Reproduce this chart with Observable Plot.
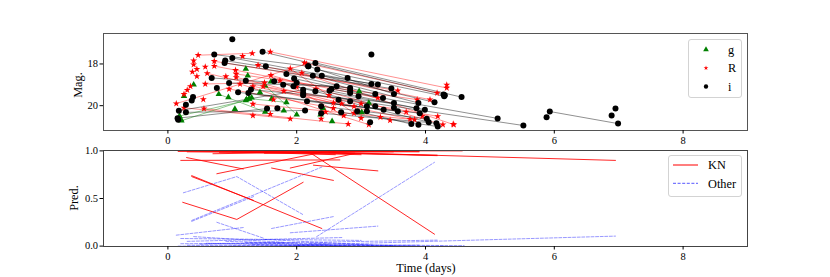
<!DOCTYPE html>
<html><head><meta charset="utf-8">
<script src="https://cdn.jsdelivr.net/npm/d3@7"></script>
<script src="https://cdn.jsdelivr.net/npm/@observablehq/plot@0.6"></script>
<style>
body{margin:0;background:#fff;}
#fig{position:relative;width:830px;height:277px;font-family:"Liberation Serif",serif;color:#000;overflow:hidden;}
#fig > svg{position:absolute;left:0;overflow:visible;}
#fig svg text{font-family:"Liberation Serif",serif !important;}
#fig svg [aria-label$="tick label"]{font-size:10.5px !important;}
.lab{position:absolute;font-size:12.3px;white-space:nowrap;transform:translate(-50%,-50%);}
.rot{transform:translate(-50%,-50%) rotate(-90deg);}
</style></head><body><div id="fig"></div>
<script>
// ---------- data ----------
const xTicks = [0, 2, 4, 6, 8];
const magTicks = [18, 20];
const predTicks = [0, 0.5, 1];
const bands = ["g", "R", "i"];
const classes = ["KN", "Other"];

// light curves: polylines [[time, mag], ...] per object and band
const gLines = [
  [[0.21,20.72],[1.26,19.68]],
  [[0.18,20.50],[1.21,19.75]],
  [[1.26,19.66],[1.84,19.84]],
  [[0.79,19.45],[1.51,20.30]],
  [[1.51,19.04],[2.00,20.43]]
];
const gPts = [[1.21,18.24],[1.24,18.56],[0.40,18.99],[0.25,19.54],[0.94,19.60],[1.04,20.16],[1.43,19.36],
  [1.61,19.68],[1.80,20.24],[2.37,20.43],[2.55,20.75],[2.97,19.31],[3.01,20.32],[2.41,20.12],[3.12,19.87],
  [1.30,19.62],[1.22,19.70],[0.20,20.65],[1.60,18.85]];

const rLines = [
  [[0.13,19.90],[2.15,18.00]],
  [[0.25,20.10],[1.90,20.63]],
  [[0.56,20.14],[2.80,20.88]],
  [[0.47,17.58],[1.31,17.49]],
  [[1.59,17.42],[4.33,19.15]],
  [[0.72,17.87],[3.57,19.28]],
  [[0.72,18.10],[3.26,19.63]],
  [[1.06,18.48],[3.87,19.71]],
  [[1.40,18.06],[4.07,19.71]],
  [[1.06,18.64],[2.89,20.03]],
  [[0.61,18.45],[2.57,19.87]],
  [[1.12,18.96],[3.12,20.91]],
  [[1.32,19.07],[3.76,20.64]],
  [[1.32,19.92],[3.83,20.67]],
  [[1.48,19.07],[4.19,20.51]],
  [[1.60,18.54],[4.27,20.91]],
  [[1.74,18.80],[2.73,20.47]],
  [[2.12,17.95],[4.18,19.39]],
  [[1.90,18.22],[2.89,20.36]],
  [[0.95,19.20],[2.57,20.12]],
  [[2.08,18.43],[4.44,20.91]],
  [[0.58,18.96],[1.50,18.90]]
];
const rPts = [[0.40,17.84],[0.40,18.03],[0.58,18.14],[0.38,18.38],[0.45,18.59],[0.35,19.07],[0.45,18.25],
  [1.16,17.63],[0.30,19.25],[0.25,19.45],[1.64,19.71],[1.59,20.40],[1.32,20.47],[2.38,20.63],[4.43,20.88],
  [2.30,19.20],[2.50,19.50],[2.00,19.10],[1.80,19.30],[3.00,19.90],[2.70,19.90],[3.00,20.60],[2.45,20.30],
  [3.30,20.55],[3.45,20.70],[3.70,20.30],[0.55,19.70],[1.05,18.30],[0.90,18.60],[4.33,19.00],[3.95,20.50]];

const iLines = [
  [[1.47,17.42],[4.28,19.47]],
  [[2.29,17.95],[4.56,19.59]],
  [[0.72,17.55],[2.18,18.11]],
  [[1.00,17.71],[3.16,18.96]],
  [[0.89,17.84],[3.26,18.99]],
  [[0.88,17.95],[3.47,19.18]],
  [[2.18,18.11],[3.51,19.44]],
  [[2.32,18.27],[4.29,19.55]],
  [[1.84,18.48],[3.22,19.44]],
  [[1.96,18.70],[3.34,19.63]],
  [[2.25,18.56],[3.89,19.87]],
  [[2.39,18.56],[4.14,19.84]],
  [[2.54,19.20],[5.12,20.61]],
  [[2.10,19.39],[5.52,20.95]],
  [[0.17,20.24],[2.10,19.24]],
  [[0.28,20.32],[2.13,20.23]],
  [[0.15,20.60],[1.54,20.14]],
  [[1.09,19.36],[3.35,20.20]],
  [[1.25,19.39],[3.57,20.27]],
  [[1.29,19.23],[3.51,19.87]],
  [[2.16,19.79],[3.91,20.36]],
  [[2.38,20.03],[4.02,20.63]],
  [[2.38,20.36],[4.17,20.84]],
  [[2.65,19.71],[4.05,20.79]],
  [[2.69,20.32],[4.19,21.00]],
  [[2.94,20.27],[3.78,20.88]],
  [[5.93,20.28],[6.99,20.86]],
  [[1.65,18.83],[3.22,20.03]],
  [[0.68,18.67],[2.83,19.15]],
  [[0.95,18.91],[2.62,19.07]],
  [[1.95,19.07],[3.99,20.19]],
  [[2.51,19.28],[3.86,20.12]]
];
const iPts = [[1.00,16.81],[3.16,17.55],[0.39,19.59],[0.37,19.75],[0.16,20.67],[0.76,19.15],[1.21,18.80],
  [1.52,18.11],[2.83,19.28],[2.83,19.39],[2.96,19.55],[3.09,20.27],[3.09,20.03],[2.83,19.79],[3.14,20.80],
  [3.89,20.91],[5.88,20.56],[6.89,20.47],[6.95,20.13],[2.10,19.50],[2.29,19.31],[1.70,20.12],[1.79,19.00],
  [2.00,18.90],[0.28,19.95],[3.51,20.10],[2.79,18.67],[4.30,19.50]];

// classifier predictions: polylines [[time, prob], ...]
const knLines = [
  [[0.16,1.00],[4.57,1.00]],
  [[0.16,0.995],[3.90,0.99]],
  [[0.30,0.99],[2.90,0.975]],
  [[0.50,1.00],[3.00,0.96]],
  [[0.80,0.985],[3.50,0.99]],
  [[1.00,0.99],[2.60,0.96]],
  [[1.20,1.00],[4.18,0.95]],
  [[0.70,0.97],[2.20,0.985]],
  [[1.50,0.975],[3.20,0.995]],
  [[2.00,0.99],[3.90,0.995]],
  [[1.50,0.99],[4.18,0.955]],
  [[0.20,0.90],[2.67,0.905]],
  [[0.29,0.93],[1.17,0.81]],
  [[0.76,0.76],[2.39,0.985]],
  [[1.61,0.82],[2.57,0.69]],
  [[1.90,0.82],[2.88,0.97]],
  [[2.21,0.98],[4.14,0.125]],
  [[2.26,0.85],[3.26,0.79]],
  [[2.50,0.985],[6.95,0.90]],
  [[0.37,0.74],[2.39,0.185]],
  [[0.37,0.73],[1.33,0.48]],
  [[0.23,0.46],[1.07,0.28],[2.10,0.67]]
];
const otherLines = [
  [[0.24,0.56],[1.07,0.73],[2.10,0.33]],
  [[0.37,0.27],[2.39,0.83]],
  [[0.37,0.26],[1.33,0.52]],
  [[0.76,0.25],[1.50,0.08]],
  [[1.61,0.185],[2.57,0.31]],
  [[2.31,0.10],[4.14,0.88]],
  [[0.13,0.115],[1.17,0.195]],
  [[1.90,0.14],[3.26,0.21]],
  [[2.00,0.01],[6.95,0.105]],
  [[0.20,0.08],[3.00,0.06]],
  [[0.30,0.05],[2.70,0.09]],
  [[0.50,0.02],[4.18,0.063]],
  [[0.16,0.00],[4.30,0.00]],
  [[0.30,0.01],[3.50,0.005]],
  [[0.60,0.03],[2.40,0.00]],
  [[1.00,0.00],[3.90,0.01]],
  [[0.90,0.05],[2.50,0.02]],
  [[1.20,0.04],[2.80,0.00]],
  [[1.50,0.07],[3.20,0.01]],
  [[0.40,0.10],[1.80,0.04]],
  [[1.30,0.02],[4.60,0.005]],
  [[2.20,0.03],[3.80,0.00]],
  [[0.20,0.025],[2.00,0.035]]
];

// ---------- build tables ----------
const toRows = (lines, key) => lines.flatMap((pts, i) => pts.map(([t, v]) => ({id: key + i, t, v})));
const ptRows = (pts) => pts.map(([t, v]) => ({t, v}));
const gRows = toRows(gLines, "g"), rRows = toRows(rLines, "R"), iRows = toRows(iLines, "i");
const knRows = toRows(knLines, "k"), otRows = toRows(otherLines, "o");
const colors = {g: "green", R: "red", i: "black"};

const font = {fontFamily: "Liberation Serif, serif", fontSize: "10.5px", color: "#000", background: "transparent", overflow: "visible"};

const topPlot = Plot.plot({
  width: 830, height: 140, marginTop: 33, marginBottom: 10, marginLeft: 103, marginRight: 83,
  style: font,
  x: {domain: [-1, 9]},
  y: {domain: [16.54, 21.19], reverse: true},
  marks: [
    Plot.line(rRows, {x: "t", y: "v", z: "id", stroke: colors.R, strokeOpacity: 0.55, strokeWidth: 0.8}),
    Plot.line(iRows, {x: "t", y: "v", z: "id", stroke: colors.i, strokeOpacity: 0.55, strokeWidth: 0.8}),
    Plot.line(gRows, {x: "t", y: "v", z: "id", stroke: colors.g, strokeOpacity: 0.55, strokeWidth: 0.8}),
    Plot.dot(gRows.concat(ptRows(gPts)), {x: "t", y: "v", symbol: "triangle", r: 2.4, fill: colors.g, stroke: "none"}),
    Plot.dot(rRows.concat(ptRows(rPts)), {x: "t", y: "v", symbol: "star", r: 2.2, fill: colors.R, stroke: "none"}),
    Plot.dot(iRows.concat(ptRows(iPts)), {x: "t", y: "v", symbol: "circle", r: 3, fill: colors.i, stroke: "none"}),
    Plot.frame({stroke: "#555", strokeWidth: 1}),
    Plot.axisX({ticks: xTicks, tickSize: 3.5, tickPadding: 2.2, tickFormat: d3.format("d"), label: null}),
    Plot.axisY({ticks: magTicks, tickSize: 3.5, tickPadding: 2, tickFormat: d3.format("d"), label: null})
  ]
});

const botPlot = Plot.plot({
  width: 830, height: 137, marginTop: 10, marginBottom: 31, marginLeft: 103, marginRight: 83,
  style: font,
  x: {domain: [-1, 9]},
  y: {domain: [-0.004, 1.004]},
  marks: [
    Plot.line(otRows, {x: "t", y: "v", z: "id", stroke: "blue", strokeOpacity: 0.45, strokeWidth: 0.9, strokeDasharray: "3,1.6"}),
    Plot.line(knRows, {x: "t", y: "v", z: "id", stroke: "red", strokeOpacity: 0.85, strokeWidth: 1}),
    Plot.frame({stroke: "#444", strokeWidth: 1}),
    Plot.axisX({ticks: xTicks, tickSize: 3.5, tickPadding: 2.5, tickFormat: d3.format("d"), label: null}),
    Plot.axisY({ticks: predTicks, tickSize: 3.5, tickPadding: 2, tickFormat: d3.format(".1f"), label: null})
  ]
});

const fig = document.getElementById("fig");
topPlot.style.top = "0px";
botPlot.style.top = "140px";
fig.appendChild(topPlot);
fig.appendChild(botPlot);

// axis titles
function label(text, x, y, rot) {
  const d = document.createElement("div");
  d.className = "lab" + (rot ? " rot" : "");
  d.textContent = text;
  d.style.left = x + "px"; d.style.top = y + "px";
  fig.appendChild(d);
}
label("Mag.", 78, 85, true);
label("Pred.", 74, 198, true);
label("Time (days)", 426, 268, false);

// legends
function legendBox(x, y, w, h) {
  const svg = d3.select(fig).append("svg")
    .attr("width", w + 1).attr("height", h + 1)
    .style("left", x + "px").style("top", y + "px").style("position", "absolute");
  svg.append("rect").attr("x", 0.5).attr("y", 0.5).attr("width", w).attr("height", h)
    .attr("rx", 2.5).attr("fill", "rgba(255,255,255,0.85)").attr("stroke", "#d3d3d3").attr("stroke-width", 1);
  return svg;
}
const lg1 = legendBox(688, 39, 53, 58);
const symMap = {g: d3.symbolTriangle, R: d3.symbolStar, i: d3.symbolCircle};
const symSize = {g: 14, R: 7, i: 15};
bands.forEach((b, k) => {
  const cy = 10.5 + k * 18.5;
  lg1.append("path").attr("d", d3.symbol(symMap[b], symSize[b])())
    .attr("transform", `translate(18,${cy})`).attr("fill", colors[b]);
  lg1.append("text").attr("x", 40).attr("y", cy).attr("dy", "0.35em")
    .attr("font-size", 12.3).text(b);
});
const lg2 = legendBox(668, 155, 73, 41);
classes.forEach((c, k) => {
  const cy = 10 + k * 18.3;
  lg2.append("path").attr("d", `M5,${cy}H30`).attr("fill", "none")
    .attr("stroke", c === "KN" ? "rgb(255,40,40)" : "rgb(120,120,255)")
    .attr("stroke-width", 1.2)
    .attr("stroke-dasharray", c === "KN" ? null : "3,1.6");
  lg2.append("text").attr("x", 40).attr("y", cy).attr("dy", "0.35em")
    .attr("font-size", 12.3).text(c);
});
</script>
</body></html>
